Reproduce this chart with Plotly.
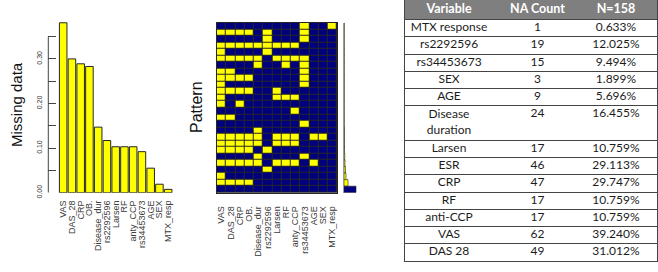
import textwrap
import plotly.graph_objects as go

W, H = 658, 272

# ---------------- data ----------------
variables = ["VAS", "DAS_28", "CRP", "OB.", "Disease_dur", "rs2292596", "Larsen",
             "RF", "anty_CCP", "rs34453673", "AGE", "SEX", "MTX_resp"]
missing_prop = [0.381, 0.300, 0.289, 0.283, 0.147, 0.117, 0.103, 0.103, 0.103,
                0.092, 0.055, 0.019, 0.0075]
y_tick_vals = [0.00, 0.05, 0.10, 0.15, 0.20, 0.25, 0.30, 0.35]
y_tick_text = ["0.00", "", "0.10", "", "0.20", "", "0.30", ""]

# missingness patterns (1 = missing), one string per combination, top to bottom
pattern = [
    "0000000001001",
    "1111010001000",
    "0000010001000",
    "1111111110000",
    "1000010000000",
    "1111101111000",
    "0000100101000",
    "1100000001000",
    "1111000001000",
    "1000000001000",
    "1111001000000",
    "1000001110000",
    "1010000000000",
    "0000000010000",
    "1100000000000",
    "0000000001000",
    "0000100000000",
    "1111101110110",
    "1111101110000",
    "1111010000000",
    "0000100001000",
    "1111101110100",
    "0000010000000",
    "1000000000000",
    "1111000000000",
    "0000000000000",
]
pattern_freq = [1, 1, 1, 1, 1, 1, 1, 1, 1, 1, 1, 1, 1, 1, 1, 1,
                2, 2, 2, 2, 3, 4, 6, 8, 16, 48]

table_header = ["Variable", "NA Count", "N=158"]
table_vars = ["MTX response", "rs2292596", "rs34453673", "SEX", "AGE",
              "Disease duration", "Larsen", "ESR", "CRP", "RF", "anti-CCP",
              "VAS", "DAS 28"]
table_na = [1, 19, 15, 3, 9, 24, 17, 46, 47, 17, 17, 62, 49]
table_pct = ["0.633%", "12.025%", "9.494%", "1.899%", "5.696%", "16.455%",
             "10.759%", "29.113%", "29.747%", "10.759%", "10.759%", "39.240%",
             "31.012%"]

# ---------------- helpers / styles ----------------
def fx(p):
    return p / W


def fy(p):
    return 1 - p / H


YELLOW = "#FFFF00"
NAVY = "#00007F"
EDGE = "#262626"
R_FONT = "Liberation Sans, Arial, sans-serif"
LABEL_FONT = dict(family=R_FONT, size=9, color="#3a3a3a")
TABLE_FONT = "Lato, Carlito, sans-serif"

fig = go.Figure()

# ---------------- missing proportion bars ----------------
fig.add_trace(go.Bar(
    x=variables, y=missing_prop, width=0.86,
    marker=dict(color=YELLOW, line=dict(color=EDGE, width=1)),
    xaxis="x", yaxis="y", showlegend=False, hoverinfo="skip"))

# ---------------- pattern grid ----------------
z = [[int(c) for c in row] for row in pattern]
rows = list(range(len(pattern)))
fig.add_trace(go.Heatmap(
    z=z, x=variables, y=rows, colorscale=[[0, NAVY], [1, YELLOW]],
    zmin=0, zmax=1, showscale=False, xgap=1, ygap=1,
    xaxis="x2", yaxis="y2", hoverinfo="skip"))

# ---------------- pattern frequency bars ----------------
complete = [sum(r) == 0 for r in z]
fig.add_trace(go.Bar(
    x=pattern_freq, y=rows, orientation="h", width=1,
    marker=dict(color=[NAVY if c else YELLOW for c in complete],
                line=dict(color=EDGE, width=0.6)),
    xaxis="x3", yaxis="y3", showlegend=False, hoverinfo="skip"))

# ---------------- table ----------------
HEADER_H = 19.5
UNIT_H = 17.25
wrapped = [textwrap.wrap(v, 12) for v in table_vars]
boundaries = [0, HEADER_H]
for w in wrapped:
    boundaries.append(boundaries[-1] + UNIT_H * len(w))
row_tops = boundaries[1:-1]
row_mid = [(a + b) / 2 for a, b in zip(boundaries[1:-1], boundaries[2:])]
first_line = [t + UNIT_H / 2 for t in row_tops]
col_x = [449, 537.5, 616]

fig.add_trace(go.Scatter(
    x=col_x, y=[HEADER_H / 2] * 3, text=table_header, mode="text",
    textfont=dict(family=TABLE_FONT, size=12.5, color="white", weight="bold"),
    xaxis="x4", yaxis="y4", cliponaxis=False, showlegend=False, hoverinfo="skip"))
body_font = dict(family=TABLE_FONT, size=12, color="#1c1c1c")
fig.add_trace(go.Scatter(
    x=[col_x[0]] * len(table_vars), y=row_mid,
    text=["<br>".join(w) for w in wrapped], mode="text", textfont=body_font,
    xaxis="x4", yaxis="y4", cliponaxis=False, showlegend=False, hoverinfo="skip"))
fig.add_trace(go.Scatter(
    x=[col_x[1]] * len(table_na), y=first_line,
    text=[str(v) for v in table_na], mode="text", textfont=body_font,
    xaxis="x4", yaxis="y4", cliponaxis=False, showlegend=False, hoverinfo="skip"))
fig.add_trace(go.Scatter(
    x=[col_x[2]] * len(table_pct), y=first_line,
    text=table_pct, mode="text", textfont=body_font,
    xaxis="x4", yaxis="y4", cliponaxis=False, showlegend=False, hoverinfo="skip"))

TABLE_BOTTOM = boundaries[-1]

# ---------------- layout ----------------
bar_top_px, bar_bot_px = 10, 192.7
px_per_unit = 446.0
grid_top_px = 22.7

fig.update_layout(
    template="none",
    width=W, height=H, margin=dict(l=0, r=0, t=0, b=0, pad=0),
    paper_bgcolor="white", plot_bgcolor="white", showlegend=False,
    xaxis=dict(domain=[fx(48.3), fx(175)], anchor="y", type="category",
               range=[-1.7, 12.78], tickmode="array", tickvals=variables,
               ticktext=variables, tickangle=-90, tickfont=LABEL_FONT,
               showline=False, showgrid=False, zeroline=False, ticks="",
               ticklabelstandoff=5, automargin=False),
    yaxis=dict(domain=[fy(bar_bot_px), fy(bar_top_px)], anchor="x",
               range=[0, (bar_bot_px - bar_top_px) / px_per_unit],
               tickmode="array", tickvals=y_tick_vals, ticktext=y_tick_text,
               ticks="inside", ticklen=8, tickwidth=1, tickcolor="#444444",
               tickangle=-90,
               tickfont=dict(family=R_FONT, size=7, color="#333333"),
               showline=False, showgrid=False, zeroline=False,
               ticklabelstandoff=4, automargin=False),
    xaxis2=dict(domain=[fx(216.7), fx(337)], anchor="y2", type="category",
                range=[-0.5, 12.5], tickmode="array", tickvals=variables,
                ticktext=variables, tickangle=-90, tickfont=LABEL_FONT,
                showline=True, mirror=True, linecolor=EDGE, linewidth=1,
                showgrid=False, zeroline=False, ticks="", ticklabelstandoff=9,
                automargin=False),
    yaxis2=dict(domain=[fy(bar_bot_px), fy(grid_top_px)], anchor="x2",
                range=[len(pattern) - 0.5, -0.5], showticklabels=False,
                showline=True, mirror=True, linecolor=EDGE, linewidth=1,
                showgrid=False, zeroline=False, ticks="", automargin=False),
    xaxis3=dict(domain=[fx(344), fx(358)], anchor="y3",
                range=[0, max(pattern_freq) * 14 / 12], showticklabels=False,
                showgrid=False, zeroline=False, showline=False, ticks="",
                automargin=False),
    yaxis3=dict(domain=[fy(bar_bot_px), fy(grid_top_px)], anchor="x3",
                range=[len(pattern) - 0.5, -0.5], showticklabels=False,
                showline=True, linecolor="#9a9a9a", linewidth=1,
                showgrid=False, zeroline=False, ticks="", automargin=False),
    xaxis4=dict(domain=[fx(405), fx(657)], anchor="y4", range=[405, 657],
                showticklabels=False, showgrid=False, zeroline=False,
                showline=True, mirror=True, linecolor="#444444", ticks="",
                automargin=False),
    yaxis4=dict(domain=[fy(TABLE_BOTTOM), fy(0)], anchor="x4",
                range=[TABLE_BOTTOM, 0], tickmode="array",
                tickvals=boundaries[1:-1], showticklabels=False, showgrid=True,
                gridcolor="#444444", gridwidth=1, zeroline=False, showline=True,
                mirror=True, linecolor="#444444", ticks="", automargin=False),
    shapes=[
        dict(type="line", xref="x domain", yref="y", x0=0, x1=0,
             y0=y_tick_vals[0], y1=y_tick_vals[-1],
             line=dict(color="#444444", width=1)),
        dict(type="rect", xref="x2 domain", yref="y2 domain", x0=0, x1=1,
             y0=0, y1=1, fillcolor=EDGE, line=dict(width=0), layer="below"),
        dict(type="rect", xref="x4 domain", yref="y4", x0=0, x1=1,
             y0=0, y1=HEADER_H, fillcolor="#7f7f7f", line=dict(width=0),
             layer="below"),
    ],
    annotations=[
        dict(text="Missing data", xref="paper", yref="paper", x=fx(17),
             y=fy(105), xanchor="center", yanchor="middle", textangle=-90,
             showarrow=False,
             font=dict(family=R_FONT, size=15, color="#111111")),
        dict(text="Pattern", xref="paper", yref="paper", x=fx(197),
             y=fy(107), xanchor="center", yanchor="middle", textangle=-90,
             showarrow=False,
             font=dict(family=R_FONT, size=16, color="#111111")),
    ],
)

fig.write_html(
    "out.html",
    config={"displayModeBar": False, "staticPlot": True},
    post_script="document.body.style.margin='0';document.body.style.padding='0';",
)
